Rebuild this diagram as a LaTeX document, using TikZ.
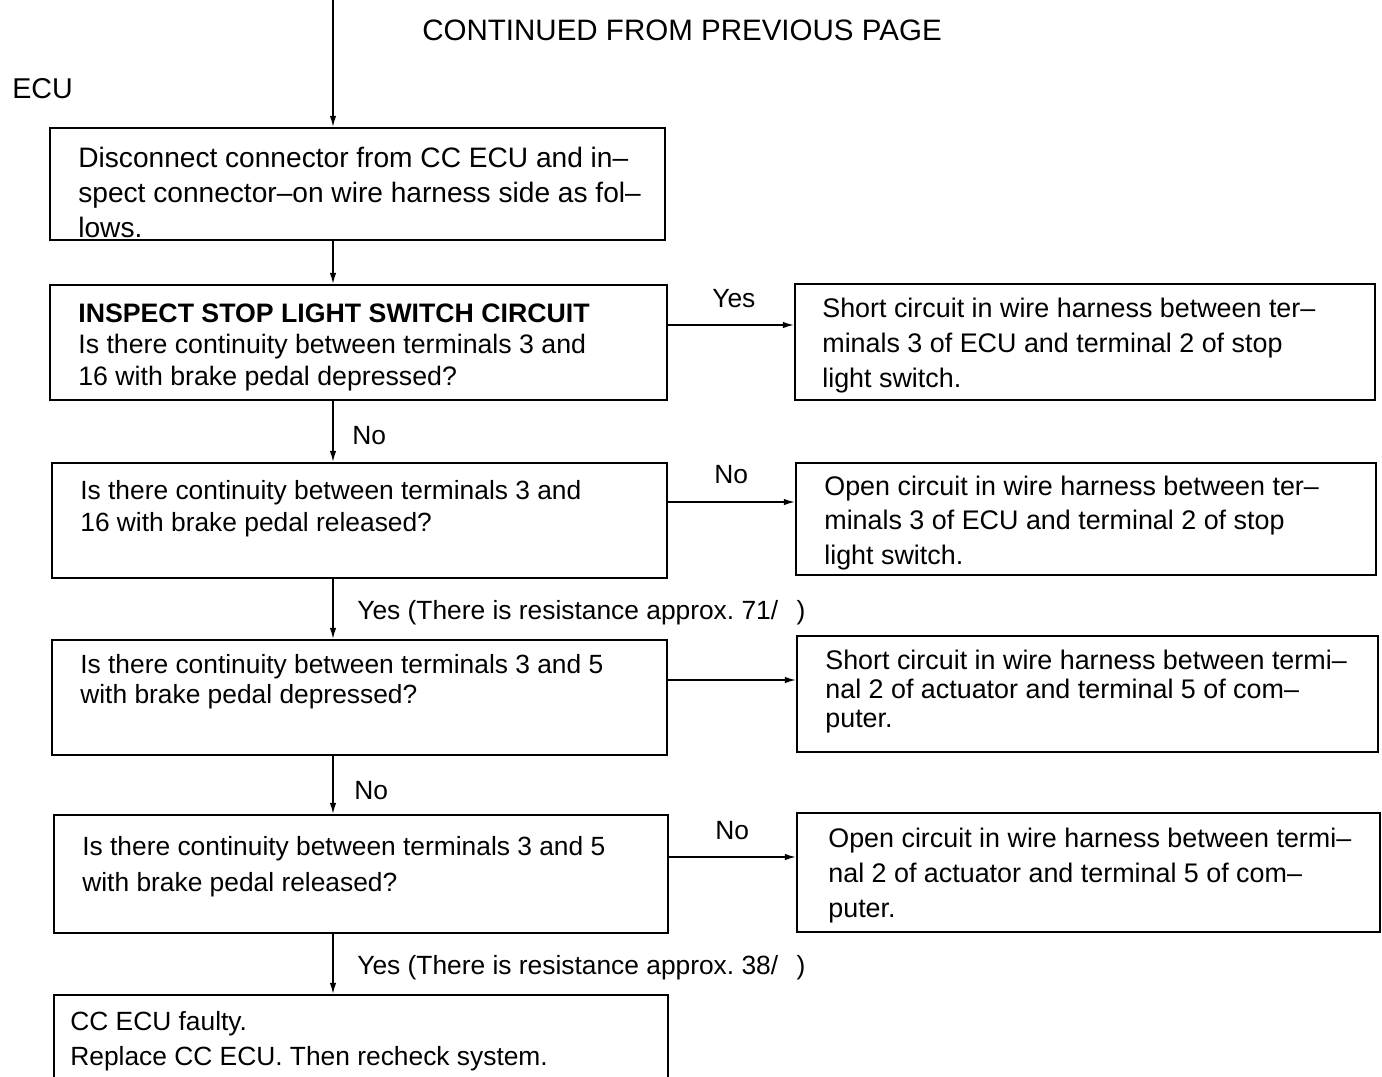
\documentclass[tikz,border=0pt]{standalone}
\usepackage{fontspec}
\setmainfont{Liberation Sans}
\usetikzlibrary{arrows.meta,fit,calc}

\begin{document}
\begin{tikzpicture}[x=0.02cm,y=-0.02cm,font=\fontsize{15}{19.9}\selectfont,
    box/.style={draw,line width=1.3pt,inner sep=0pt},
    txt/.style={anchor=base west,align=left,inner sep=0pt},
    lbl/.style={anchor=base west,inner sep=0pt},
    arr/.style={line width=0.8pt,-{Latex[length=2.2mm,width=1.3mm]}}]
  \useasboundingbox (0,0) rectangle (1382,1076);
  \clip (0,0) rectangle (1382,1076);
  \node[lbl,font=\fontsize{16.8}{20}\selectfont] (head) at (422,40) {CONTINUED FROM PREVIOUS PAGE};
  \node[lbl,font=\fontsize{16.3}{20}\selectfont] (ecu) at (12,98) {ECU};
  % left column
  \node[box,fit={(50,128) (665,240)}] (b1) {};
  \node[box,fit={(50,285) (667,400)}] (b2) {};
  \node[box,fit={(52,463) (667,578)}] (b3) {};
  \node[box,fit={(52,640) (667,755)}] (b4) {};
  \node[box,fit={(54,815) (668,933)}] (b5) {};
  \node[box,fit={(54,995) (668,1120)}] (b6) {};
  % right column
  \node[box,fit={(795,284) (1375,400)}] (r1) {};
  \node[box,fit={(796,463) (1376,575)}] (r2) {};
  \node[box,fit={(797,636) (1378,752)}] (r3) {};
  \node[box,fit={(797,813) (1380,932)}] (r4) {};
  % texts (placed at the baseline of their last line)
  \node[txt,font=\fontsize{16}{19.9}\selectfont] (t1) at (78,237)
    {Disconnect connector from CC ECU and in–\\
    spect connector–on wire harness side as fol–\\lows.};
  \node[txt,font=\fontsize{15.2}{17.9}\selectfont] (t2) at (78,385)
    {\textbf{INSPECT STOP LIGHT SWITCH CIRCUIT}\\
    Is there continuity between terminals 3 and\\
    16 with brake pedal depressed?};
  \node[txt,font=\fontsize{15}{18.2}\selectfont] (t3) at (80,531)
    {Is there continuity between terminals 3 and\\16 with brake pedal released?};
  \node[txt,font=\fontsize{15}{17}\selectfont] (t4) at (80,703)
    {Is there continuity between terminals 3 and 5\\with brake pedal depressed?};
  \node[txt,font=\fontsize{15}{20.5}\selectfont] (t5) at (82,891)
    {Is there continuity between terminals 3 and 5\\with brake pedal released?};
  \node[txt] (t6) at (70,1065) {CC ECU faulty.\\Replace CC ECU. Then recheck system.};
  \node[txt,font=\fontsize{15.3}{19.9}\selectfont] (s1) at (822,387)
    {Short circuit in wire harness between ter–\\
    minals 3 of ECU and terminal 2 of stop\\light switch.};
  \node[txt,font=\fontsize{15.3}{19.6}\selectfont] (s2) at (824,564)
    {Open circuit in wire harness between ter–\\
    minals 3 of ECU and terminal 2 of stop\\light switch.};
  \node[txt,font=\fontsize{15.3}{16.4}\selectfont] (s3) at (825,727)
    {Short circuit in wire harness between termi–\\
    nal 2 of actuator and terminal 5 of com–\\puter.};
  \node[txt,font=\fontsize{15.3}{19.9}\selectfont] (s4) at (828,917)
    {Open circuit in wire harness between termi–\\
    nal 2 of actuator and terminal 5 of com–\\puter.};
  % answers
  \node[lbl] (a1) at (712,307) {Yes};
  \node[lbl] (a2) at (352,444) {No};
  \node[lbl] (a3) at (714,483) {No};
  \node[lbl] (a4) at (357,619) {Yes (There is resistance approx.\ 71/\hspace{0.7em})};
  \node[lbl] (a5) at (354,799) {No};
  \node[lbl] (a6) at (715,839) {No};
  \node[lbl] (a7) at (357,974) {Yes (There is resistance approx.\ 38/\hspace{0.7em})};
  % connectors
  \coordinate (top) at (333,0);
  \coordinate (h1) at (700,325);
  \coordinate (h2) at (700,502);
  \coordinate (h3) at (700,680);
  \coordinate (h4) at (700,857);
  \draw[arr] (top) -- (b1.north -| top);
  \draw[arr] (b1.south -| top) -- (b2.north -| top);
  \draw[arr] (b2.south -| top) -- (b3.north -| top);
  \draw[arr] (b3.south -| top) -- (b4.north -| top);
  \draw[arr] (b4.south -| top) -- (b5.north -| top);
  \draw[arr] (b5.south -| top) -- (b6.north -| top);
  \draw[arr] (b2.east |- h1) -- (r1.west |- h1);
  \draw[arr] (b3.east |- h2) -- (r2.west |- h2);
  \draw[arr] (b4.east |- h3) -- (r3.west |- h3);
  \draw[arr] (b5.east |- h4) -- (r4.west |- h4);
\end{tikzpicture}
\end{document}
